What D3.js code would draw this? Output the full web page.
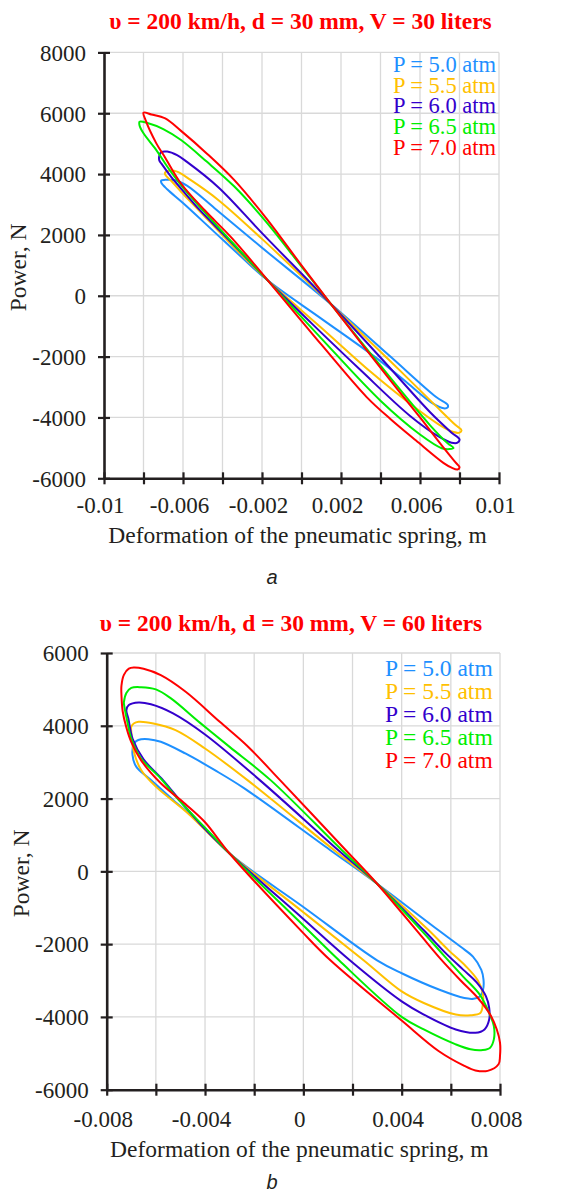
<!DOCTYPE html>
<html><head><meta charset="utf-8">
<script src="https://cdn.jsdelivr.net/npm/d3@7"></script>
<style>body{margin:0;background:#fff} svg{display:block}</style>
</head><body>
<svg id="c" width="563" height="1193"></svg>
<script>
// ---------- shared ----------
const legendLabels = ["P = 5.0 atm","P = 5.5 atm","P = 6.0 atm","P = 6.5 atm","P = 7.0 atm"];
const seriesColors = ["#1E90FF","#FFC000","#3300CC","#00EE00","#FF0000"];

// ---------- chart a (V = 30 liters) ----------
const titleA = "υ = 200 km/h, d = 30 mm, V = 30 liters";
const xTicksA = [-0.01,-0.008,-0.006,-0.004,-0.002,0,0.002,0.004,0.006,0.008,0.01];
const xLabelsA = [-0.01,-0.006,-0.002,0.002,0.006,0.01];
const yTicksA = [-6000,-4000,-2000,0,2000,4000,6000,8000];
const a50 = [[-0.0071,3790],[-0.0069,3810],[-0.0064,3800],[-0.0058,3620],[-0.0044,2880],[-0.0020,1580],[0.0015,-280],[0.0045,-2000],[0.0068,-3320],[0.0074,-3580],[0.0074,-3670],[0.0072,-3700],
  [0.0066,-3520],[0.0052,-2780],[0.0038,-2050],[0.0010,-750],[-0.0017,500],[-0.0030,1250],[-0.0045,2150],[-0.0060,3050],[-0.0068,3500],[-0.0071,3720]];
const a55 = [[-0.0069,4060],[-0.0067,4110],[-0.0063,4080],[-0.0056,3800],[-0.0042,3143],[-0.0020,1870],[0.0015,-280],[0.0045,-2150],[0.0068,-3620],[0.0078,-4250],[0.0081,-4420],[0.0080,-4500],
  [0.0077,-4480],[0.0070,-4250],[0.0055,-3550],[0.0035,-2500],[0.0010,-1050],[-0.0017,500],[-0.0035,1650],[-0.0052,2813],[-0.0060,3350],[-0.0066,3780],[-0.0069,3980]];
const a60 = [[-0.0072,4600],[-0.0071,4720],[-0.0068,4740],[-0.0063,4620],[-0.0058,4400],[-0.0042,3560],[-0.0020,2060],[0.0015,-280],[0.0040,-2030],[0.0065,-3820],[0.0076,-4500],[0.0080,-4720],[0.0079,-4830],
  [0.0076,-4830],[0.0070,-4650],[0.0055,-3950],[0.0030,-2450],[0.0005,-900],[-0.0017,500],[-0.0035,1720],[-0.0053,2923],[-0.0062,3600],[-0.0066,3912],[-0.0071,4352],[-0.0072,4450]];
const a65 = [[-0.0082,5720],[-0.0078,5680],[-0.0070,5480],[-0.0061,5120],[-0.0048,4410],[-0.0034,3590],[-0.0018,2440],[0.0000,960],[0.0015,-280],[0.0040,-2300],[0.0065,-4250],[0.0074,-4850],[0.0077,-5000],[0.0075,-5040],
  [0.0071,-5010],[0.0060,-4560],[0.0040,-3450],[0.0010,-1400],[-0.0017,500],[-0.0035,1750],[-0.0050,2813],[-0.0061,3637],[-0.0068,4250],[-0.00735,4790],[-0.0080,5340],[-0.0082,5600]];
const a70 = [[-0.0080,6020],[-0.0076,5960],[-0.0069,5830],[-0.0061,5420],[-0.0048,4680],[-0.0034,3800],[-0.0018,2560],[0.0000,1000],[0.0015,-280],[0.0030,-1540],[0.0045,-2780],[0.0060,-4000],[0.0072,-5000],[0.0078,-5480],[0.0080,-5640],[0.0079,-5710],
  [0.0076,-5650],[0.0072,-5500],[0.0058,-4760],[0.0045,-4050],[0.0033,-3330],[0.0010,-1600],[-0.0017,500],[-0.0035,1880],[-0.0049,2810],[-0.0061,3690],[-0.0069,4540],[-0.00735,5010],[-0.0079,5780]];

// ---------- chart b (V = 60 liters) ----------
const titleB = "υ = 200 km/h, d = 30 mm, V = 60 liters";
const xTicksB = [-0.008,-0.006,-0.004,-0.002,0,0.002,0.004,0.006,0.008];
const xLabelsB = [-0.008,-0.004,0,0.004,0.008];
const yTicksB = [-6000,-4000,-2000,0,2000,4000,6000];
const b50 = [[-0.0069,3500],[-0.0068,3580],[-0.0066,3630],[-0.0063,3633],[-0.0058,3560],[-0.0048,3239],[-0.0036,2780],[-0.0024,2280],[0.00107,594],[0.0030,-340],[0.0055,-1620],[0.0064,-2073],[0.0069,-2345],[0.00724,-2709],[0.00733,-2982],[0.00731,-3255],[0.00718,-3436],[0.00693,-3500],
  [0.00655,-3482],[0.00554,-3255],[0.0040,-2800],[0.0030,-2444],[0.0000,-979],[-0.0030,490],[-0.0042,1324],[-0.0053,1963],[-0.0062,2511],[-0.0068,2877],[-0.00695,3200]];
const b55 = [[-0.0070,3972],[-0.0069,4064],[-0.0067,4110],[-0.0061,4064],[-0.0052,3880],[-0.0040,3376],[-0.00226,2500],[0.00123,594],[0.0030,-340],[0.0051,-1620],[0.0059,-2164],[0.0066,-2600],[0.0071,-3000],[0.0073,-3345],[0.0073,-3664],[0.0072,-3891],[0.0068,-3955],
  [0.0062,-3936],[0.0049,-3618],[0.0040,-3300],[0.00245,-2444],[0.0000,-1125],[-0.0030,490],[-0.0047,1598],[-0.0060,2329],[-0.0066,2786],[-0.0069,3300],[-0.0070,3835]];
const b60 = [[-0.0072,4430],[-0.0071,4570],[-0.0067,4640],[-0.0062,4590],[-0.0053,4340],[-0.0040,3760],[-0.00176,2500],[0.0014,594],[0.0030,-340],[0.0049,-1620],[0.0058,-2255],[0.0065,-2700],[0.00705,-3050],[0.00743,-3436],[0.00756,-3755],[0.00756,-4073],[0.00737,-4345],[0.0070,-4436],
  [0.0062,-4345],[0.0049,-3936],[0.0040,-3573],[0.00189,-2444],[0.0000,-1310],[-0.0030,490],[-0.0040,1160],[-0.0049,1850],[-0.0057,2500],[-0.0065,3080],[-0.00695,3650],[-0.00712,4202]];
const b65 = [[-0.0073,4650],[-0.0072,4900],[-0.0070,5040],[-0.0066,5060],[-0.0060,5000],[-0.0054,4760],[-0.0042,4080],[-0.0030,3420],[-0.00132,2500],[0.00155,594],[0.0030,-340],[0.0048,-1620],[0.0057,-2300],[0.0065,-2891],[0.00718,-3391],[0.00756,-3891],[0.00775,-4255],[0.00775,-4618],[0.0076,-4845],[0.0073,-4909],
  [0.0068,-4890],[0.0062,-4755],[0.0049,-4345],[0.0040,-4000],[0.00145,-2444],[0.0000,-1487],[-0.0030,490],[-0.0040,1200],[-0.0050,1908],[-0.0058,2550],[-0.0066,3101],[-0.0070,3650],[-0.00716,4110],[-0.0073,4615]];
const b70 = [[-0.0074,4844],[-0.0074,5100],[-0.0073,5400],[-0.0071,5570],[-0.0069,5600],[-0.0065,5565],[-0.0058,5390],[-0.0048,4940],[-0.0034,4110],[-0.0023,3460],[-0.00094,2500],[0.00171,594],[0.0030,-340],[0.0047,-1700],[0.0056,-2420],[0.0064,-3000],[0.0071,-3480],[0.0076,-3936],[0.00787,-4345],[0.0080,-4709],[0.0080,-5073],[0.00794,-5300],[0.0075,-5482],
  [0.0070,-5470],[0.00655,-5345],[0.0055,-4936],[0.0040,-4100],[0.0011,-2444],[0.0000,-1697],[-0.0030,490],[-0.0040,1350],[-0.0048,1850],[-0.0058,2420],[-0.0066,3050],[-0.0070,3550],[-0.0072,3950],[-0.00735,4400]];

// ---------- drawing ----------
const svg = d3.select("#c");
const SERIF = "'Liberation Serif','Times New Roman',serif";
const INK = "#231f20";

function drawChart(cfg, xTicks, xLabels, yTicks, title, loops) {
  const x = d3.scaleLinear().domain([xTicks[0], xTicks[xTicks.length-1]]).range([cfg.left, cfg.right]);
  const y = d3.scaleLinear().domain([yTicks[0], yTicks[yTicks.length-1]]).range([cfg.bottom, cfg.top]);
  const g = svg.append("g");

  // grid
  g.append("g").selectAll("line").data(xTicks.slice(1)).join("line")
    .attr("x1", d => x(d)).attr("x2", d => x(d)).attr("y1", cfg.top).attr("y2", cfg.bottom)
    .attr("stroke", "#d9d9d9").attr("stroke-width", 1.3);
  g.append("g").selectAll("line").data(yTicks.slice(1)).join("line")
    .attr("y1", d => y(d)).attr("y2", d => y(d)).attr("x1", cfg.left).attr("x2", cfg.right)
    .attr("stroke", "#d9d9d9").attr("stroke-width", 1.3);

  // loops
  const line = d3.line().x(d => x(d[0])).y(d => y(d[1])).curve(d3.curveCatmullRomClosed.alpha(0.5));
  g.append("g").selectAll("path").data(loops).join("path")
    .attr("d", line).attr("fill", "none")
    .attr("stroke", (d, i) => seriesColors[i]).attr("stroke-width", 2)
    .attr("stroke-linejoin", "round");

  // x axis
  const labelSet = new Set(xLabels.map(v => v.toFixed(4)));
  const xa = g.append("g").attr("transform", `translate(0,${cfg.bottom})`)
    .call(d3.axisBottom(x).tickValues(xTicks).tickSizeInner(6).tickSizeOuter(0)
      .tickFormat(d => labelSet.has(d.toFixed(4)) ? String(+d.toFixed(4)) : ""));
  xa.attr("font-family", null).attr("font-size", null);
  xa.select(".domain").attr("stroke", INK).attr("stroke-width", 2.6);
  xa.selectAll(".tick line").attr("y1", -6).attr("stroke", INK).attr("stroke-width", 2.2);
  xa.selectAll(".tick text").attr("y", cfg.xLabelDy).attr("dy", 0).attr("dx", -4)
    .attr("fill", INK).style("font-family", SERIF).style("font-size", "23px");

  // y axis
  const ya = g.append("g").attr("transform", `translate(${cfg.left},0)`)
    .call(d3.axisLeft(y).tickValues(yTicks).tickSizeInner(6).tickSizeOuter(0).tickPadding(12)
      .tickFormat(d => String(d)));
  ya.attr("font-family", null).attr("font-size", null);
  ya.select(".domain").attr("stroke", INK).attr("stroke-width", 2.6);
  ya.selectAll(".tick line").attr("x1", 6).attr("stroke", INK).attr("stroke-width", 2.2);
  ya.selectAll(".tick text").attr("dy", "0.34em")
    .attr("fill", INK).style("font-family", SERIF).style("font-size", "23px");

  // axis titles
  g.append("text").attr("x", (cfg.left + cfg.right) / 2 - 4).attr("y", cfg.bottom + cfg.xTitleDy)
    .attr("text-anchor", "middle").attr("fill", INK)
    .style("font-family", SERIF).style("font-size", "23.5px")
    .text("Deformation of the pneumatic spring, m");
  g.append("text").attr("transform", `translate(${cfg.yTitleX},${(cfg.top + cfg.bottom) / 2 + 2}) rotate(-90)`)
    .attr("text-anchor", "middle").attr("fill", INK)
    .style("font-family", SERIF).style("font-size", "23.5px")
    .text("Power, N");

  // title
  g.append("text").attr("x", cfg.titleX).attr("y", cfg.titleY).attr("text-anchor", "middle")
    .attr("fill", "#FF0000").style("font-family", SERIF).style("font-weight", "bold").style("font-size", "23.5px")
    .text(title);

  // legend
  g.append("g").selectAll("text").data(legendLabels).join("text")
    .attr("x", cfg.legendX).attr("y", (d, i) => cfg.legendY + i * cfg.legendDy)
    .attr("text-anchor", "end").attr("fill", (d, i) => seriesColors[i])
    .style("font-family", SERIF).style("font-size", cfg.legendFont)
    .text(d => d);

  // panel label
  g.append("text").attr("x", cfg.panelX).attr("y", cfg.panelY).attr("text-anchor", "middle")
    .attr("fill", INK).style("font-family", "'Liberation Sans',Arial,sans-serif")
    .style("font-style", "italic").style("font-size", "20px").text(cfg.panel);
}

drawChart({left:104, right:499, top:52.4, bottom:478.3, xLabelDy:35, xTitleDy:65, yTitleX:26,
  titleX:300.5, titleY:29.3, legendX:496, legendY:71.7, legendDy:20.8, legendFont:"22.5px", panel:"a", panelX:272, panelY:584},
  xTicksA, xLabelsA, yTicksA, titleA, [a50, a55, a60, a65, a70]);

drawChart({left:106.7, right:500, top:653, bottom:1089.7, xLabelDy:37, xTitleDy:67, yTitleX:29,
  titleX:291, titleY:630.7, legendX:492.7, legendY:676, legendDy:23, legendFont:"23.5px", panel:"b", panelX:272, panelY:1189},
  xTicksB, xLabelsB, yTicksB, titleB, [b50, b55, b60, b65, b70]);
</script>
</body></html>
